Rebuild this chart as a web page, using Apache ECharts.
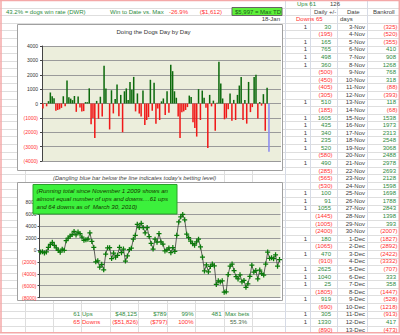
<!DOCTYPE html>
<html><head><meta charset="utf-8">
<script src="https://cdn.jsdelivr.net/npm/echarts@6/dist/echarts.min.js"></script>
<style>html,body{margin:0;padding:0;background:#fff;overflow:hidden}#c{width:400px;height:335px}</style>
</head><body><div id="c"></div>
<script>
// ---------- data ----------
const dailyResults = [
  -355, 30, -195, 165, 765, 498, 360, -500, -450, -405, -305, 510, -185, 1605, 435, 340, 235, 520, -580, 490,
  -285, -565, -530, 100, 91, 1055, -1445, -1005, -2400, 180, -1065, 470, -910, 2625, 1040, 25, -1805, 919, -690, 305,
  1330, -890,
  600, -2000, 850, 1050, 250, 1500, 950, 1850, -550, 700, -700, -900, 900, -1500, -1150, -950, 1650, -500, 1450, -1400,
  -350, -1150, 150, 350, -800, 850, -650,
  2700, 2250, 850, 400, -900, -2400, -600, -550, -450, -250, 550, 450, -1300, -1700, -2300, 1000, -1150, 900, 400, -300,
  -3100, 600, -200, 200, -1900, 50, 2900, 1400, 350, -1100, -1000, -400, 700, -1200, 250, -1150, 600, 1250, 1850, -1150,
  250, -1400, 1500, -600, -250, 1850, 2000, -1050, 100, -150, 650, -1900, 1100
];
const todayBet = -3350;
const runningTotal = [
  -355, -325, -520, -355, 410, 908, 1268, 768, 318, -88, -393, 118, -68, 1538, 1973, 2313, 2548, 3068, 2488, 2978,
  2693, 2128, 1598, 1698, 1788, 2843, 1398, 393, -2007, -1827, -2892, -2422, -3332, -707, 333, 358, -1447, -528, -1218, -913,
  417, -473,
  127, -1873, -1023, 27, 277, 1777, 2427, 4277, 3727, 4427, 3727, 2827, 3727, 2227, 1077, 127, 1777, 1277, 2727, 1327,
  977, -173, -23, 327, -473, 377, -273,
  2427, 4677, 5527, 5927, 5027, 2627, 2027, 1477, 1027, 777, 1327, 1777, 477, -1223, -3523, -2523, -3673, -2773, -2373, -2673,
  -5773, -5173, -5373, -5173, -7073, -7023, -4123, -2723, -2373, -3473, -4473, -4873, -4173, -5373, -5123, -6273, -5673, -4423, -2573, -3723,
  -3473, -4873, -3373, -3973, -4223, -2373, -373, -1423, -1323, -1473, -823, -2723, -1623
];
const barAxisTicks = [-4000, 4000, 1000];   // min, max, step
const lineAxisTicks = [-8000, 8000, 2000];
const tableDates = ['3-Nov','4-Nov','5-Nov','6-Nov','7-Nov','8-Nov','9-Nov','10-Nov','11-Nov','12-Nov','13-Nov','14-Nov',
  '15-Nov','16-Nov','17-Nov','18-Nov','19-Nov','20-Nov','21-Nov','22-Nov','23-Nov','24-Nov','25-Nov','26-Nov','27-Nov',
  '28-Nov','29-Nov','30-Nov','1-Dec','2-Dec','3-Dec','4-Dec','5-Dec','6-Dec','7-Dec','8-Dec','9-Dec','10-Dec','11-Dec','12-Dec','13-Dec'];
const tableDaily = [30, -195, 165, 765, 498, 360, -500, -450, -405, -305, 510, -185, 1605, 435, 340, 235, 520, -580, 490, -285,
  -565, -530, 100, 91, 1055, -1445, -1005, -2400, 180, -1065, 470, -910, 2625, 1040, 25, -1805, 919, -690, 305, 1330, -890];
const tableBankroll = [-325, -520, -355, 410, 908, 1268, 768, 318, -88, -393, 118, -68, 1538, 1973, 2313, 2548, 3068, 2488, 2978, 2693,
  2128, 1598, 1698, 1788, 2843, 1398, 393, -2007, -1827, -2892, -2422, -3332, -707, 333, 358, -1447, -528, -1218, -913, 417, -473];
const upsRow = ['61', 'Ups', '$48,125', '$789', '99%', '481', 'Max bets'];
const downsRow = ['65', 'Downs', '($51,826)', '($797)', '100%', '55.3%'];
const headerTexts = ['43.2% = dogs win rate (DWR)', 'Win to Date vs. Max', '-26.9%', '($1,612)', '$5,997', '= Max TD',
  'Ups 61', '126', 'Daily +/-', 'Date', 'Bankroll', '18-Jan', 'Downs 65', 'days'];
const chartTitle = 'Doing the Dogs Day by Day';
const captionText = "(Dangling blue bar below the line indicates today's betting level)";
const noteLines = ['(Running total since November 1 2009 shows an', 'almost equal number of ups and downs....61 ups', 'and 64 downs as of  March 30, 2010)'];

// ---------- helpers ----------
const FONT = '"Liberation Sans", Arial, sans-serif';
const GREEN = '#2e8b3e', RED = '#ff3030', DARK = '#404040';
const fmt = v => (v < 0 ? '(' + Math.abs(v) + ')' : String(v));
function T(x, y, text, fill, align, opts) {
  opts = opts || {};
  return { type: 'text', x: x, y: y, z: 100, silent: true,
    style: { text: text, fill: fill, textAlign: align || 'left', textVerticalAlign: 'middle',
      font: (opts.italic ? 'italic ' : '') + (opts.size || 6) + 'px ' + FONT } };
}
function L(x1, y1, x2, y2, stroke, z, w) {
  return { type: 'line', z: z == null ? -20 : z, silent: true, shape: { x1: x1, y1: y1, x2: x2, y2: y2 },
    style: { stroke: stroke, lineWidth: w || 1 } };
}
function R(x, y, w, h, fill, stroke, z) {
  return { type: 'rect', z: z, silent: true, shape: { x: x, y: y, width: w, height: h },
    style: { fill: fill, stroke: stroke || null, lineWidth: 1 } };
}

const g = [];
const ROW0 = 26.7, ROWH = 7.57;
// spreadsheet gridlines
for (let n = 1; n <= 43; n++) {
  const y = Math.round(0.2 + n * ROWH) + 0.5;
  if (y < 333) g.push(L(0, y, 400, y, '#dedede', -30));
}
[285.5, 310.5, 337.5, 367.5].forEach(x => g.push(L(x, 0, x, 333, '#d6dbe6', -30)));
[25.5, 53.5, 81.5, 110.5, 138.5, 167.5, 195.5, 224.5, 252.5].forEach(x => g.push(L(x, 301, x, 333, '#dedede', -30)));
[25.5, 224.5, 252.5].forEach(x => g.push(L(x, 171, x, 182, '#dedede', -30)));
// pink sheet border
g.push(L(0, 0.5, 400, 0.5, '#f4a8a8', -10, 1.5));
g.push(L(1, 0, 1, 333, '#f4a8a8', -10, 1.5));
g.push(L(399.3, 0, 399.3, 333, '#f4a8a8', -10, 1.5));
g.push(L(0, 332.8, 400, 332.8, '#f4a8a8', -10, 1.5));
// chart boxes and plot backgrounds
g.push(R(17.5, 24.5, 265, 146, '#fff', '#a0a0a0', -15));
g.push(R(17.5, 182.5, 265, 118, '#fff', '#a0a0a0', -15));
g.push(R(42, 46, 239, 115, '#eceedc', null, -12));
g.push(R(39.5, 202, 241, 95.7, '#eceedc', null, -12));
// titles / captions
g.push(T(153.5, 32, chartTitle, '#333', 'center', { size: 6 }));
g.push(T(53, 177.5, captionText, '#444', 'left', { italic: true, size: 5.8 }));
g.push(R(33, 184.5, 144, 29.5, '#3cf03c', '#2aa02a', 90));
noteLines.forEach((s, i) => g.push(T(36.5, 190 + i * 8.3, s, '#153300', 'left', { italic: true, size: 6.1 })));
// header row
g.push(T(6, 11.5, headerTexts[0], GREEN, 'left'));
g.push(T(110, 11.5, headerTexts[1], GREEN, 'left'));
g.push(T(188, 11.5, headerTexts[2], RED, 'right'));
g.push(T(222, 11.5, headerTexts[3], RED, 'right'));
g.push(R(232, 7.5, 50, 8, '#5ef03a', '#666', 90));
g.push(T(235, 11.5, headerTexts[4], '#1d5a1d', 'left'));
g.push(T(281, 11.5, headerTexts[5], '#1d5a1d', 'right'));
g.push(T(297, 4, headerTexts[6], GREEN, 'left'));
g.push(T(340, 4, headerTexts[7], DARK, 'right'));
g.push(T(314, 11.5, headerTexts[8], DARK, 'left'));
g.push(T(347, 11.5, headerTexts[9], DARK, 'left'));
g.push(T(373, 11.5, headerTexts[10], DARK, 'left'));
g.push(T(280, 19, headerTexts[11], DARK, 'right'));
g.push(T(296, 19, headerTexts[12], RED, 'left'));
g.push(T(340, 19, headerTexts[13], DARK, 'left'));
// right-hand table
tableDates.forEach((d, k) => {
  const y = ROW0 + k * ROWH;
  const dv = tableDaily[k], bv = tableBankroll[k];
  if (dv > 0) g.push(T(307, y, '1', DARK, 'right'));
  g.push(T(dv < 0 ? 332.5 : 331, y, fmt(dv), dv < 0 ? RED : GREEN, 'right'));
  g.push(T(365, y, d, DARK, 'right'));
  g.push(T(bv < 0 ? 397.5 : 396, y, fmt(bv), bv < 0 ? RED : GREEN, 'right'));
});
// summary rows
const yU = ROW0 + 38 * ROWH, yD = ROW0 + 39 * ROWH;
g.push(T(80, yU, upsRow[0], GREEN, 'right')); g.push(T(82, yU, upsRow[1], GREEN, 'left'));
g.push(T(137, yU, upsRow[2], GREEN, 'right')); g.push(T(166.5, yU, upsRow[3], GREEN, 'right'));
g.push(T(193.5, yU, upsRow[4], GREEN, 'right')); g.push(T(221.5, yU, upsRow[5], GREEN, 'right'));
g.push(T(225, yU, upsRow[6], GREEN, 'left'));
g.push(T(80, yD, downsRow[0], RED, 'right')); g.push(T(82, yD, downsRow[1], RED, 'left'));
g.push(T(138, yD, downsRow[2], RED, 'right')); g.push(T(167.5, yD, downsRow[3], RED, 'right'));
g.push(T(193.5, yD, downsRow[4], RED, 'right')); g.push(T(247, yD, downsRow[5], '#4a6a4a', 'right'));

const barCats = Array.from({ length: 129 }, (_, i) => i);
const lineCats = runningTotal.map((_, i) => i);
const labelColor = v => (Number(v) < 0 ? RED : '#333');

const option = {
  animation: false,
  graphic: { elements: g },
  grid: [
    { left: 42, top: 46, width: 239, height: 115 },
    { left: 39.5, top: 202, width: 241, height: 95.7 }
  ],
  xAxis: [
    { type: 'category', gridIndex: 0, data: barCats, axisLine: { show: false }, axisTick: { show: false }, axisLabel: { show: false } },
    { type: 'category', gridIndex: 1, data: lineCats, boundaryGap: true, axisLine: { show: false }, axisTick: { show: false }, axisLabel: { show: false } }
  ],
  yAxis: [
    { type: 'value', gridIndex: 0, min: barAxisTicks[0], max: barAxisTicks[1], interval: barAxisTicks[2],
      axisLine: { show: true, lineStyle: { color: '#444' } }, axisTick: { show: true, length: 2, lineStyle: { color: '#444' } },
      splitLine: { lineStyle: { color: '#9a9a9a', width: 1 } },
      axisLabel: { fontSize: 5, fontFamily: 'Liberation Sans', margin: 4, formatter: fmt, color: labelColor } },
    { type: 'value', gridIndex: 1, min: lineAxisTicks[0], max: lineAxisTicks[1], interval: lineAxisTicks[2],
      axisLine: { show: true, lineStyle: { color: '#444' } }, axisTick: { show: true, length: 2, lineStyle: { color: '#444' } },
      splitLine: { lineStyle: { color: '#9a9a9a', width: 1 } },
      axisLabel: { fontSize: 5, fontFamily: 'Liberation Sans', margin: 3, formatter: fmt, color: labelColor } }
  ],
  series: [
    { type: 'bar', xAxisIndex: 0, yAxisIndex: 0, data: dailyResults, barGap: '-100%', barCategoryGap: '18%',
      itemStyle: { color: p => (p.value >= 0 ? '#0d6a0d' : '#f01818') } },
    { type: 'bar', xAxisIndex: 0, yAxisIndex: 0, data: [[dailyResults.length, todayBet]], barGap: '-100%', barCategoryGap: '18%',
      itemStyle: { color: '#8a8af0' } },
    { type: 'line', xAxisIndex: 1, yAxisIndex: 1, data: runningTotal,
      lineStyle: { color: '#3a3a3a', width: 0.8 },
      symbol: 'path://M3,0H5V3H8V5H5V8H3V5H0V3H3Z', symbolSize: 5, showAllSymbol: true,
      itemStyle: { color: '#0a7a0a' } }
  ]
};
const chart = echarts.init(document.getElementById('c'), null, { renderer: 'svg', width: 400, height: 335 });
chart.setOption(option);
</script>
</body></html>
